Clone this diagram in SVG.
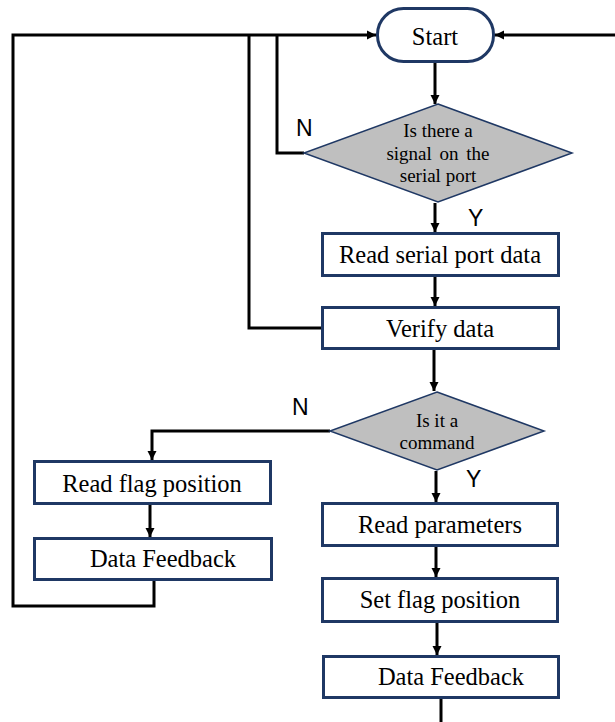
<svg xmlns="http://www.w3.org/2000/svg" width="615" height="722" viewBox="0 0 615 722">
  <style>
    .box { fill: #ffffff; stroke: #1f3864; stroke-width: 3; }
    .dec { fill: #bfbfbf; stroke: #1f3864; stroke-width: 1.5; }
    .lbl { font-family: "Liberation Serif", "Times New Roman", serif; font-size: 24.5px; fill: #000; text-anchor: middle; }
    .dlbl { font-family: "Liberation Serif", "Times New Roman", serif; font-size: 19px; fill: #000; text-anchor: middle; }
    .yn { font-family: "Liberation Sans", Arial, sans-serif; font-size: 23px; fill: #000; }
    .wire { fill: none; stroke: #000; stroke-width: 3; }
  </style>
  <defs>
    <marker id="arrow" markerUnits="userSpaceOnUse" markerWidth="10" markerHeight="10" refX="9" refY="5" orient="auto">
      <path d="M0,0.5 L9,5 L0,9.5 Z" fill="#000"/>
    </marker>
  </defs>
  <rect width="615" height="722" fill="#ffffff"/>

  <g id="connectors">
    <!-- loop returning to Start from the left -->
    <path class="wire" d="M154,581 V606 H13 V35 H376" marker-end="url(#arrow)"/>
    <path class="wire" d="M321,328 H249 V35"/>
    <path class="wire" d="M304,153 H277 V35"/>
    <!-- loop returning to Start from the right -->
    <path class="wire" d="M615,35 H495" marker-end="url(#arrow)"/>
    <!-- main flow -->
    <path class="wire" d="M435,63 V104" marker-end="url(#arrow)"/>
    <path class="wire" d="M435,203 V232" marker-end="url(#arrow)"/>
    <path class="wire" d="M435,277 V306" marker-end="url(#arrow)"/>
    <path class="wire" d="M434,350 V391" marker-end="url(#arrow)"/>
    <path class="wire" d="M330,431 H152 V460" marker-end="url(#arrow)"/>
    <path class="wire" d="M150,505 V537" marker-end="url(#arrow)"/>
    <path class="wire" d="M436,471 V502" marker-end="url(#arrow)"/>
    <path class="wire" d="M436,547 V577" marker-end="url(#arrow)"/>
    <path class="wire" d="M437,623 V655" marker-end="url(#arrow)"/>
    <path class="wire" d="M441,699 V722"/>
    <!-- branch labels -->
    <text class="yn" x="296" y="136">N</text>
    <text class="yn" x="468" y="226">Y</text>
    <text class="yn" x="292" y="415">N</text>
    <text class="yn" x="466" y="487">Y</text>
  </g>

  <g id="start">
    <rect class="box" x="377.5" y="8.5" width="116" height="53" rx="26" ry="26"/>
    <text class="lbl" x="435" y="45" font-size="25">Start</text>
  </g>

  <g id="check-signal">
    <polygon class="dec" points="438,104 572,153 438,202 304,153"/>
    <text class="dlbl" x="438" y="137">Is there a</text>
    <text class="dlbl" x="438" y="160" word-spacing="3">signal on the</text>
    <text class="dlbl" x="438" y="182">serial port</text>
  </g>

  <g id="read-serial">
    <rect class="box" x="322.5" y="233.5" width="236" height="42"/>
    <text class="lbl" x="440" y="263">Read serial port data</text>
  </g>

  <g id="verify">
    <rect class="box" x="322.5" y="307.5" width="236" height="41"/>
    <text class="lbl" x="440" y="337">Verify data</text>
  </g>

  <g id="check-command">
    <polygon class="dec" points="437,392 544,431 437,470 330,431"/>
    <text class="dlbl" x="437" y="427">Is it a</text>
    <text class="dlbl" x="437" y="449">command</text>
  </g>

  <g id="read-flag">
    <rect class="box" x="34.5" y="461.5" width="236" height="42"/>
    <text class="lbl" x="152" y="492">Read flag position</text>
  </g>

  <g id="feedback-left">
    <rect class="box" x="34.5" y="538.5" width="237" height="41"/>
    <text class="lbl" x="163" y="567">Data Feedback</text>
  </g>

  <g id="read-params">
    <rect class="box" x="322.5" y="503.5" width="235" height="42"/>
    <text class="lbl" x="440" y="533">Read parameters</text>
  </g>

  <g id="set-flag">
    <rect class="box" x="322.5" y="578.5" width="235" height="43"/>
    <text class="lbl" x="440" y="608">Set flag position</text>
  </g>

  <g id="feedback-right">
    <rect class="box" x="323.5" y="656.5" width="235" height="41"/>
    <text class="lbl" x="451" y="685">Data Feedback</text>
  </g>
</svg>
